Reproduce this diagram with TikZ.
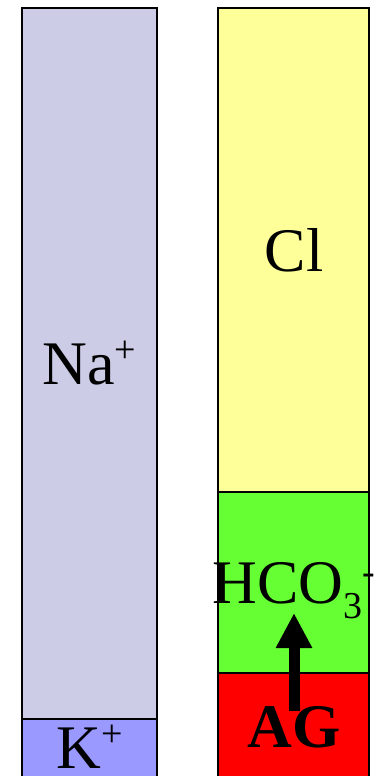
\documentclass[tikz,border=0pt]{standalone}
\usepackage{fontspec}
\setmainfont{Liberation Serif}
\usepackage{xcolor}
\definecolor{agnablue}{RGB}{204,204,230}
\definecolor{agkblue}{RGB}{153,153,255}
\definecolor{agyellow}{RGB}{255,255,153}
\definecolor{aggreen}{RGB}{102,255,51}
\definecolor{agred}{RGB}{255,0,0}
\usetikzlibrary{arrows.meta,positioning}
\newcommand{\ionsup}[2]{\raisebox{#1}{\fontsize{38}{40}\selectfont #2}}

\begin{document}
\begin{tikzpicture}[x=1pt, y=-1pt,
  ionbox/.style={draw=black, line width=1.3pt},
  ionlabel/.style={font=\fontsize{62}{70}\selectfont, inner sep=0pt, anchor=base}]

\useasboundingbox[fill=white] (0,0) rectangle (380,776);

% --- Cations column ---
\draw[ionbox, fill=agnablue] (22,8) rectangle (157,719);
\draw[ionbox, fill=agkblue] (22,719) rectangle (157,780);
\node[ionlabel] (na) at (89.5,384) {Na\ionsup{22pt}{+}};
\node[ionlabel] (k) at (89.5,768) {K\ionsup{22pt}{+}};

% --- Anions column ---
\draw[ionbox, fill=agyellow] (218,8) rectangle (369,492);
\draw[ionbox, fill=aggreen] (218,492) rectangle (369,673);
\draw[ionbox, fill=agred] (218,673) rectangle (369,780);
\node[ionlabel] (cl) at (294,271) {Cl};
\node[ionlabel] (hco) at (294,603) {HCO\ionsup{-15pt}{3}\ionsup{19pt}{-}};
\node[ionlabel, font=\fontsize{62}{70}\selectfont\bfseries] (ag) at (294,747) {AG};

% Arrow from AG up into bicarbonate
\coordinate (ag-tail) at (294,711);
\coordinate (ag-head) at (294,613);
\draw[line width=11pt, -{Triangle[width=34pt, length=35pt]}] (ag-tail) -- (ag-head);

\end{tikzpicture}
\end{document}
